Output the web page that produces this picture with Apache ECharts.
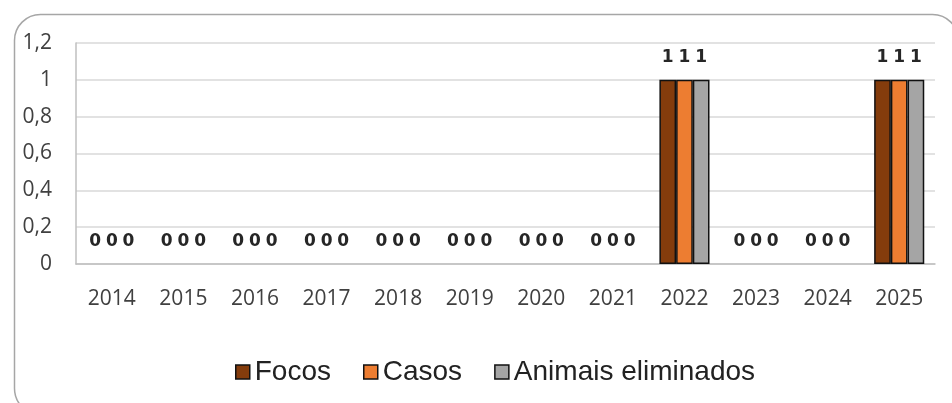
<!DOCTYPE html>
<html>
<head>
<meta charset="utf-8">
<script src="https://cdn.jsdelivr.net/npm/echarts@6/dist/echarts.min.js"></script>
<style>
  html, body { margin: 0; padding: 0; background: #fff; }
  #chart { width: 952px; height: 403px; }
</style>
</head>
<body>
<div id="chart"></div>
<script>
// data
const years = ['2014', '2015', '2016', '2017', '2018', '2019', '2020', '2021', '2022', '2023', '2024', '2025'];
const focos = [0, 0, 0, 0, 0, 0, 0, 0, 1, 0, 0, 1];
const casos = [0, 0, 0, 0, 0, 0, 0, 0, 1, 0, 0, 1];
const animaisEliminados = [0, 0, 0, 0, 0, 0, 0, 0, 1, 0, 0, 1];
const yTicks = [0, 0.2, 0.4, 0.6, 0.8, 1, 1.2];

const colors = ['#843C0C', '#ED7D31', '#A5A5A5'];

var chart = echarts.init(document.getElementById('chart'));

function barSeries(name, data, color) {
    return {
        name: name,
        type: 'bar',
        // no outline on empty bars, otherwise a black line sits on the axis
        data: data.map(function (v) {
            return v === 0 ? { value: v, itemStyle: { borderWidth: 0 } } : v;
        }),
        barGap: '0%',
        barCategoryGap: '30%',
        itemStyle: { color: color, borderColor: '#111', borderWidth: 1.5 },
        label: {
            show: true,
            position: 'top',
            distance: 14,
            fontFamily: 'DejaVu Sans',
            fontWeight: 'bold',
            fontSize: 17,
            color: '#262626'
        }
    };
}

var option = {
    backgroundColor: '#fff',
    animation: false,
    // rounded frame around the chart
    graphic: [{
        type: 'rect',
        left: 12, top: 12,
        shape: { width: 944, height: 400, r: 26 },
        style: { fill: 'none', stroke: '#a6a6a6', lineWidth: 1.5 },
        silent: true
    }],
    grid: { left: 76, right: 17, top: 43, bottom: 139 },
    legend: {
        left: 230,
        top: 353,
        itemWidth: 14,
        itemHeight: 14,
        itemGap: 32,
        icon: 'rect',
        itemStyle: { borderColor: '#111', borderWidth: 1.5 },
        textStyle: { fontFamily: 'Liberation Sans', fontSize: 28, color: '#222' },
        data: ['Focos', 'Casos', 'Animais eliminados']
    },
    xAxis: {
        type: 'category',
        data: years,
        axisTick: { show: false },
        axisLine: { lineStyle: { color: '#bfbfbf', width: 1.5 } },
        axisLabel: { fontFamily: 'Open Sans', fontSize: 21, color: '#404040', margin: 25 }
    },
    yAxis: {
        type: 'value',
        min: yTicks[0],
        max: yTicks[yTicks.length - 1],
        interval: 0.2,
        axisLine: { show: true, lineStyle: { color: '#bfbfbf', width: 1.5 } },
        axisTick: { show: false },
        splitLine: { lineStyle: { color: '#d9d9d9', width: 1.5 } },
        axisLabel: {
            fontFamily: 'Open Sans', fontSize: 21, color: '#404040', margin: 24,
            formatter: function (v) { return String(+v.toFixed(1)).replace('.', ','); }
        }
    },
    series: [
        barSeries('Focos', focos, colors[0]),
        barSeries('Casos', casos, colors[1]),
        barSeries('Animais eliminados', animaisEliminados, colors[2])
    ]
};

chart.setOption(option);
</script>
</body>
</html>
